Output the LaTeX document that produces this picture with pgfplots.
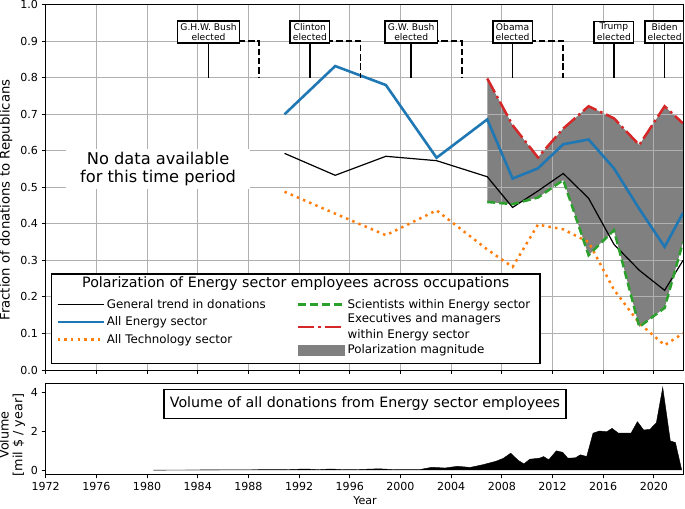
\documentclass[border=0pt]{standalone}
\usepackage{fontspec}
\setmainfont{DejaVu Sans}
\usepackage{pgfplots}
\pgfplotsset{compat=1.18}
\definecolor{mblue}{HTML}{1F77B4}
\definecolor{morange}{HTML}{FF7F0E}
\definecolor{mgreen}{HTML}{2CA02C}
\definecolor{mred}{HTML}{D62728}
\definecolor{mgray}{HTML}{808080}
\definecolor{gridc}{HTML}{B0B0B0}
\pgfplotsset{
  /pgf/number format/assume math mode=true,
  myaxis/.style={
    scale only axis, width=637.3bp, xmin=1972, xmax=2022.3,
    axis line style={line width=0.9bp, black},
    tick align=outside, tick pos=left,
    major tick length=4.2bp,
    tick style={line width=0.9bp, black},
    tick label style={font=\fontsize{11.1}{13}\selectfont},
    xtick={1972,1976,...,2020},
    xticklabel style={/pgf/number format/1000 sep={}},
  },
}
\begin{document}
\begin{tikzpicture}
% ---------------- main axis ----------------
\begin{axis}[myaxis, set layers,
  at={(45.7bp,139bp)}, anchor=south west, height=365.3bp,
  ymin=0, ymax=1,
  xticklabels={},
  ytick={0,0.1,0.2,0.3,0.4,0.5,0.6,0.7,0.8,0.9,1.0},
  yticklabel style={/pgf/number format/.cd, fixed, fixed zerofill, precision=1},
  grid=major, major grid style={gridc, line width=0.9bp},
  ylabel={Fraction of donations to Republicans},
  ylabel style={at={(axis description cs:-0.0623,0.4654)}, anchor=center, font=\fontsize{13.3}{16}\selectfont},
  legend style={at={(axis description cs:0.0115,0.2053)}, anchor=north west, draw=none, fill=none,
    font=\fontsize{11.9}{15.4}\selectfont, row sep=3bp},
  legend cell align=left,
  legend image code/.code={\draw[#1] (0bp,0bp) -- (46bp,0bp);},
]
% polarization area (between executives and scientists)
\addplot[fill=mgray, draw=none, on layer=axis background, forget plot] coordinates {
 (2006.85,0.798) (2008.85,0.67) (2010.85,0.582) (2012.85,0.661) (2014.85,0.722)
 (2016.85,0.689) (2018.85,0.616) (2020.85,0.722) (2022.3,0.675)
 (2022.3,0.35) (2020.85,0.17) (2018.85,0.118) (2016.85,0.383) (2014.85,0.314)
 (2012.85,0.52) (2010.85,0.472) (2008.85,0.454) (2006.85,0.46)};
% general trend
\addplot[black, line width=1.2bp] coordinates {
 (1990.85,0.593) (1994.85,0.533) (1998.85,0.585) (2002.85,0.573) (2006.85,0.529)
 (2008.85,0.445) (2010.85,0.49) (2012.85,0.538) (2014.85,0.47) (2016.85,0.344)
 (2018.85,0.273) (2020.85,0.218) (2022.3,0.30)};
\addlegendentry{General trend in donations}
% all energy
\addplot[mblue, line width=2.6bp] coordinates {
 (1990.85,0.70) (1994.85,0.832) (1998.85,0.78) (2002.85,0.581) (2006.85,0.686)
 (2008.85,0.524) (2010.85,0.552) (2012.85,0.618) (2014.85,0.631) (2016.85,0.552)
 (2018.85,0.441) (2020.85,0.337) (2022.3,0.43)};
\addlegendentry{All Energy sector}
% all technology
\addplot[morange, line width=2.5bp, dash pattern=on 2.5bp off 4.2bp] coordinates {
 (1990.85,0.488) (1994.85,0.428) (1998.85,0.369) (2002.85,0.437) (2006.85,0.33)
 (2008.85,0.282) (2010.85,0.398) (2012.85,0.385) (2014.85,0.35) (2016.85,0.22)
 (2018.85,0.128) (2020.85,0.068) (2022.3,0.10)};
\addlegendentry{All Technology sector}
% scientists
\addplot[mgreen, line width=2.5bp, dash pattern=on 8bp off 4bp, forget plot] coordinates {
 (2006.85,0.46) (2008.85,0.454) (2010.85,0.472) (2012.85,0.52) (2014.85,0.314)
 (2016.85,0.383) (2018.85,0.118) (2020.85,0.17) (2022.3,0.35)};
% executives
\addplot[mred, line width=2.5bp, dash pattern=on 16bp off 4bp on 2.5bp off 4bp, forget plot] coordinates {
 (2006.85,0.798) (2008.85,0.67) (2010.85,0.582) (2012.85,0.661) (2014.85,0.722)
 (2016.85,0.689) (2018.85,0.616) (2020.85,0.722) (2022.3,0.675)};
% election markers
\addplot[black, line width=1.7bp, forget plot] coordinates {(1984.85,0.8) (1984.85,0.92)};
\addplot[black, line width=1.7bp, forget plot] coordinates {(1992.85,0.8) (1992.85,0.92)};
\addplot[black, line width=1.7bp, forget plot] coordinates {(2000.85,0.8) (2000.85,0.92)};
\addplot[black, line width=1.7bp, forget plot] coordinates {(2008.85,0.8) (2008.85,0.92)};
\addplot[black, line width=1.7bp, forget plot] coordinates {(2016.85,0.8) (2016.85,0.92)};
\addplot[black, line width=1.7bp, forget plot] coordinates {(2020.85,0.8) (2020.85,0.92)};
\addplot[black, line width=1.7bp, dash pattern=on 6.5bp off 2.8bp, forget plot] coordinates {(1986.5,0.9) (1988.85,0.9) (1988.85,0.8)};
\addplot[black, line width=1.7bp, dash pattern=on 6.5bp off 2.8bp, forget plot] coordinates {(1994.2,0.9) (1996.85,0.9) (1996.85,0.8)};
\addplot[black, line width=1.7bp, dash pattern=on 6.5bp off 2.8bp, forget plot] coordinates {(2002.5,0.9) (2004.85,0.9) (2004.85,0.8)};
\addplot[black, line width=1.7bp, dash pattern=on 6.5bp off 2.8bp, forget plot] coordinates {(2010.2,0.9) (2012.85,0.9) (2012.85,0.8)};
% text annotations
\node[fill=white, align=center, font=\fontsize{16.3}{18.6}\selectfont, inner xsep=14bp, inner ysep=3bp]
  at (axis cs:1980.87,0.55) {No data available\\for this time period};
\tikzset{elbox/.style={draw=black, fill=white, line width=1.45bp, align=center,
  font=\fontsize{9.2}{10.8}\selectfont, inner xsep=2.8bp, inner ysep=2bp}}
\node[elbox] at (axis cs:1984.85,0.925) {G.H.W. Bush\\elected};
\node[elbox] at (axis cs:1992.85,0.925) {Clinton\\elected};
\node[elbox] at (axis cs:2000.85,0.925) {G.W. Bush\\elected};
\node[elbox] at (axis cs:2008.85,0.925) {Obama\\elected};
\node[elbox] at (axis cs:2016.85,0.925) {Trump\\elected};
\node[elbox] at (axis cs:2020.85,0.925) {Biden\\elected};
% legend frame and title
\draw[line width=1.3bp, fill=white] (axis description cs:0.0094,0.0183) rectangle (axis description cs:0.7756,0.2628);
\node[font=\fontsize{14.3}{17}\selectfont] at (axis description cs:0.3923,0.2354)
  {Polarization of Energy sector employees across occupations};
\end{axis}
% ---------------- second legend column ----------------
\begin{axis}[at={(45.7bp,139bp)}, anchor=south west, scale only axis,
  width=637.3bp, height=365.3bp, hide axis, xmin=0, xmax=1, ymin=0, ymax=1,
  legend style={at={(axis description cs:0.3896,0.2053)}, anchor=north west, draw=none, fill=none,
    font=\fontsize{11.9}{15.4}\selectfont, row sep=0bp},
  legend cell align=left,
  legend image code/.code={\draw[#1] (0bp,0bp) -- (46bp,0bp);},
]
\addplot[draw=none, forget plot] coordinates {(0,0) (1,1)};
\addlegendimage{mgreen, line width=2.5bp, dash pattern=on 8bp off 4bp}
\addlegendentry{Scientists within Energy sector}
\addlegendimage{mred, line width=2.5bp, dash pattern=on 16bp off 4bp on 2.5bp off 4bp}
\addlegendentry[align=left, text depth=]{Executives and managers\\within Energy sector}
\addlegendimage{legend image code/.code={\fill[mgray] (0bp,-5bp) rectangle (46bp,5bp);}}
\addlegendentry{Polarization magnitude}
\end{axis}
% ---------------- volume axis ----------------
\begin{axis}[myaxis,
  at={(45.7bp,34.7bp)}, anchor=south west, height=91bp,
  ymin=-0.2125, ymax=4.4625, ytick={0,2,4},
  xlabel={Year},
  xlabel style={at={(axis description cs:0.501,-0.293)}, anchor=center, font=\fontsize{11.1}{13}\selectfont},
  ylabel={Volume\\{[}mil \$ / year{]}},
  ylabel style={at={(axis description cs:-0.0529,0.432)}, anchor=center, align=center, font=\fontsize{12.8}{14}\selectfont},
]
\addplot[fill=black, draw=black, line width=0.4bp] coordinates {
 (1980.5,0) (1981,0.005) (1984,0.01) (1986,0.02) (1988,0.02) (1990,0.03) (1991,0.03)
 (1992.5,0.06) (1993.5,0.03) (1994.5,0.06) (1995.5,0.03) (1996.5,0.03) (1998.3,0.07)
 (1999.5,0.03) (2001.5,0.03) (2002.5,0.15) (2003.5,0.11) (2004.5,0.2) (2005.5,0.14)
 (2006.5,0.28) (2007.5,0.45) (2008.1,0.6) (2008.7,0.87) (2009.3,0.5) (2009.75,0.32)
 (2010.2,0.56) (2011.0,0.62) (2011.3,0.7) (2011.7,0.53) (2012.3,0.99) (2012.8,0.92)
 (2013.2,0.62) (2013.8,0.63) (2014.2,0.79) (2014.7,0.7) (2015.2,1.9) (2015.7,2.01)
 (2016.3,1.98) (2016.7,2.15) (2017.2,1.9) (2018.2,1.9) (2018.7,2.49) (2019.2,2.06)
 (2019.7,2.1) (2020.2,2.44) (2020.7,4.25) (2021.3,1.5) (2021.7,1.42) (2022.2,0)};
\node[draw=black, fill=white, line width=1.3bp, font=\fontsize{14.3}{17}\selectfont,
  inner xsep=6bp, inner ysep=7.5bp] at (axis description cs:0.501,0.7725)
  {Volume of all donations from Energy sector employees};
\end{axis}
\pgfresetboundingbox
\path[use as bounding box] (0,0) rectangle (685bp,509bp);
\end{tikzpicture}
\end{document}
